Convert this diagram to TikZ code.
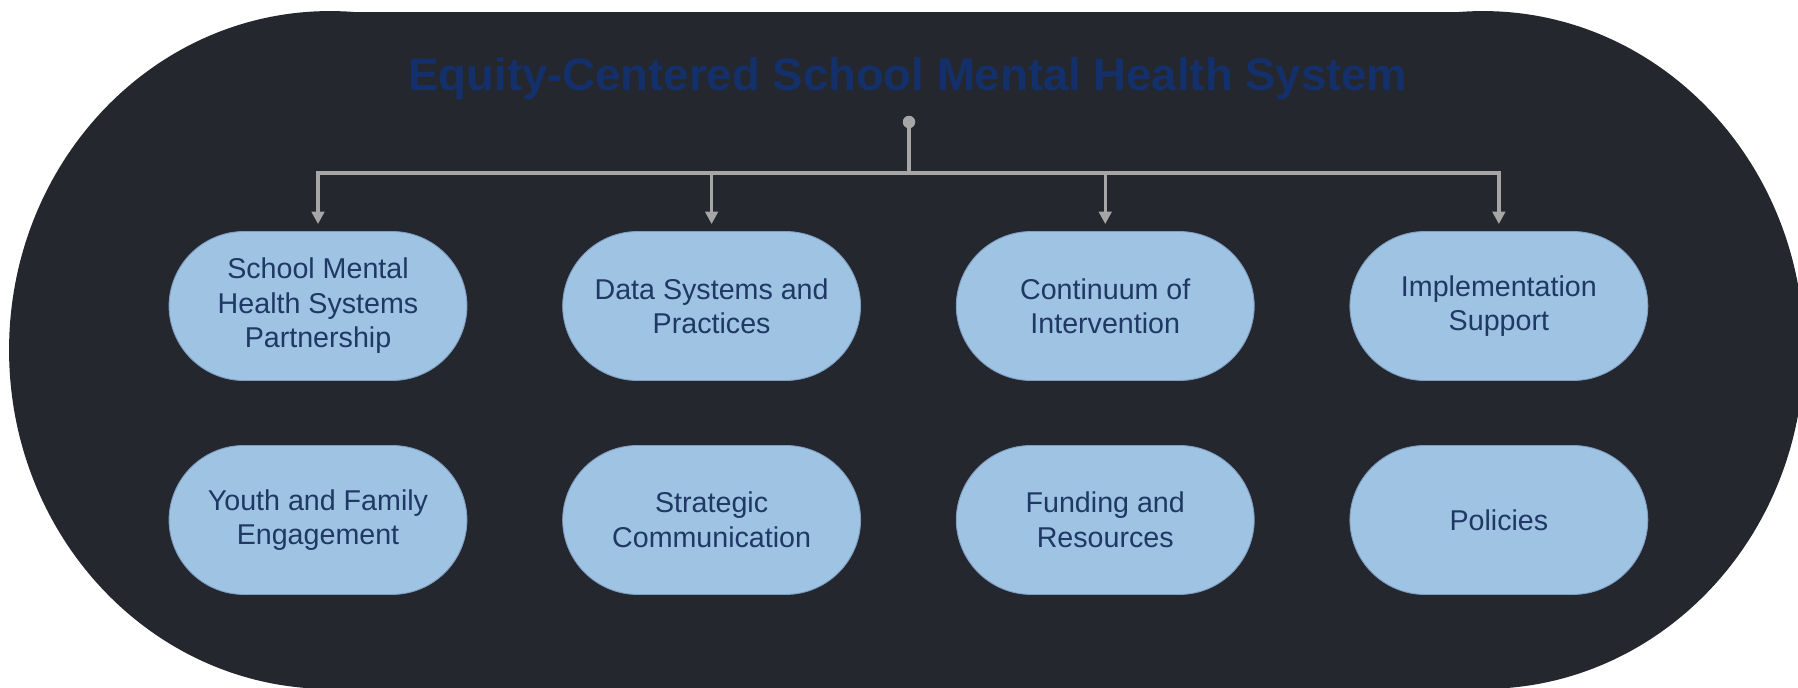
\documentclass[tikz,border=0pt]{standalone}
\usepackage{fontspec}
\setmainfont{Liberation Sans}
\usetikzlibrary{positioning}
\usetikzlibrary{arrows.meta}
\definecolor{panel}{HTML}{24272E}
\definecolor{boxblue}{HTML}{9FC3E2}
\definecolor{boxline}{HTML}{7F9EC2}
\definecolor{navy}{HTML}{1F3864}
\definecolor{titleblue}{HTML}{14306A}
\definecolor{wiregray}{HTML}{A6A6A6}

\begin{document}
\begin{tikzpicture}[x=0.02cm,y=-0.02cm,node distance=7.874cm,every node/.style={inner sep=0pt},
  pill/.style={draw=boxline,line width=0.5pt,fill=boxblue,rounded corners=1.5cm,minimum width=5.96cm,minimum height=2.98cm,align=center,text=navy,font=\fontsize{16.3}{19.6}\selectfont},
  wire/.style={draw=wiregray,line width=2pt},
  arrow/.style={wire,-{Triangle[length=0.25cm,width=0.25cm]},shorten >=0.14cm}]
  \useasboundingbox (0,0) rectangle (1798,687);
  \clip (0,0) rectangle (1798,687);

  \fill[panel] (330,350) ellipse[x radius=6.42cm,y radius=6.78cm];
  \fill[panel] (1483,350) ellipse[x radius=6.42cm,y radius=6.78cm];
  \fill[panel] (330,12) rectangle (1483,689);

  \node[text=titleblue,font=\fontsize{25.9}{30}\selectfont\bfseries,anchor=base] (title) at (908,90) {Equity-Centered School Mental Health System};

  \node[pill] (1) at (318,306) {School Mental\\Health Systems\\Partnership};
  \node[pill,right of =1] (2) {Data Systems and\\Practices};
  \node[pill,right of =2] (3) {Continuum of\\Intervention};
  \node[pill,right of =3] (4) {Implementation\\Support};

  \node[pill,below of =1,node distance=4.28cm] (5) {Youth and Family\\Engagement};
  \node[pill,right of =5] (6) {Strategic\\Communication};
  \node[pill,right of =6] (7) {Funding and\\Resources};
  \node[pill,right of =7] (8) {Policies};

  \node[circle,fill=wiregray,minimum size=0.25cm] (0) at (909,122) {};
  \coordinate (bus) at (909,173);
  \draw[wire] (0.center) -- (bus);
  \draw[arrow] (bus) -| (1.north);
  \draw[arrow] (bus) -| (2.north);
  \draw[arrow] (bus) -| (3.north);
  \draw[arrow] (bus) -| (4.north);
\end{tikzpicture}
\end{document}
